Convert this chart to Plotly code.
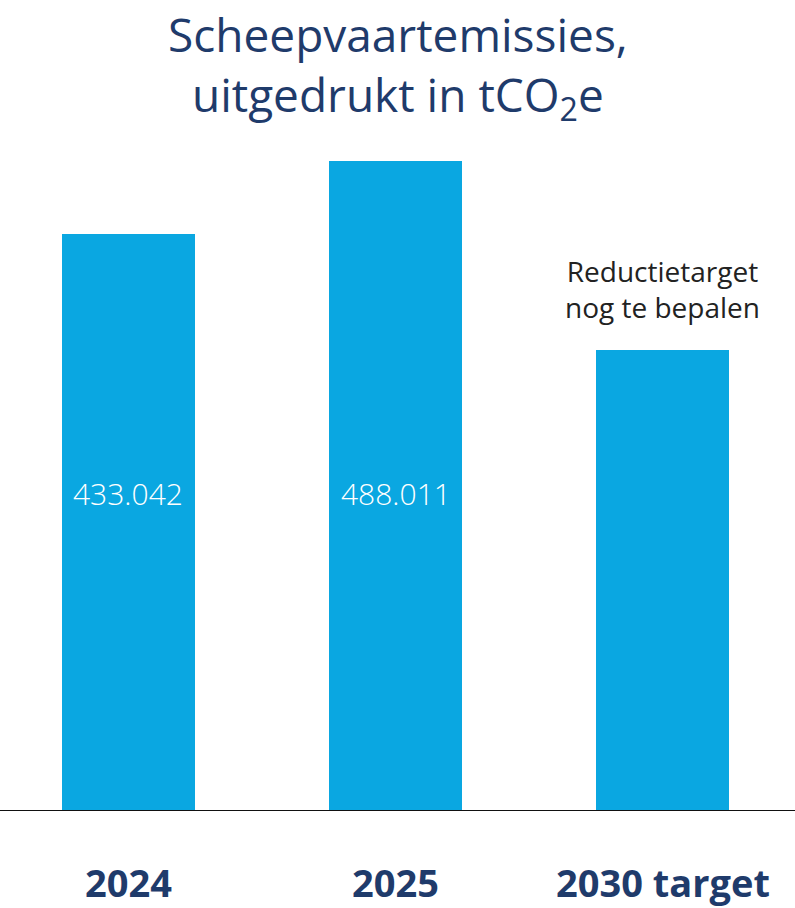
import plotly.graph_objects as go

categories = ["2024", "2025", "2030 target"]
values = [433042, 488011, 346000]
value_labels = ["433.042", "488.011", ""]
target_note = "Reductietarget<br>nog te bepalen"
title_text = "Scheepvaartemissies,<br>uitgedrukt in tCO<sub>2</sub>e"

BAR = "#0aa7e1"
NAVY = "#1f3b6b"
FONT = "Open Sans"

fig = go.Figure()
fig.add_trace(go.Bar(
    x=list(range(len(categories))), y=values, marker=dict(color=BAR, line=dict(width=0)),
    width=0.5, hoverinfo="skip"
))

annotations = []
for i, (c, lab) in enumerate(zip(categories, value_labels)):
    if lab:
        annotations.append(dict(x=i, y=238000, xref="x", yref="y", text=lab, showarrow=False,
                                font=dict(family=FONT, size=30, color="white", weight=300),
                                xanchor="center", yanchor="middle"))
    annotations.append(dict(x=i, y=0, xref="x", yref="y", text="<b>" + c + "</b>", showarrow=False,
                            font=dict(family=FONT, size=38, color=NAVY), xanchor="center", yanchor="middle",
                            borderpad=0, yshift=-71))
annotations.append(dict(x=2, y=values[2], xref="x", yref="y", text=target_note, showarrow=False,
                        font=dict(family=FONT, size=28, color="#222222"), xanchor="center", yanchor="bottom",
                        yshift=22))
annotations.append(dict(x=0.5, y=0, xref="paper", yref="y", text=title_text, showarrow=False,
                        font=dict(family=FONT, size=46, color=NAVY), xanchor="center", yanchor="middle",
                        yshift=811 - 66))

fig.update_layout(
    width=795, height=908,
    margin=dict(l=0, r=0, t=0, b=97, pad=0),
    paper_bgcolor="white", plot_bgcolor="white",
    showlegend=False,
    bargap=0,
    xaxis=dict(type="linear", range=[-0.481, 2.496], showticklabels=False, showgrid=False,
               zeroline=False, showline=False, ticks=""),
    yaxis=dict(range=[0, 608800], visible=False, showgrid=False, zeroline=False),
    annotations=annotations,
    shapes=[dict(type="line", xref="paper", yref="y", x0=0, x1=1, y0=0, y1=0,
                 line=dict(color="#111111", width=2))],
)

fig.write_html("out.html", config={"displayModeBar": False},
               post_script="document.body.style.margin='0px';document.body.style.overflow='hidden';")
